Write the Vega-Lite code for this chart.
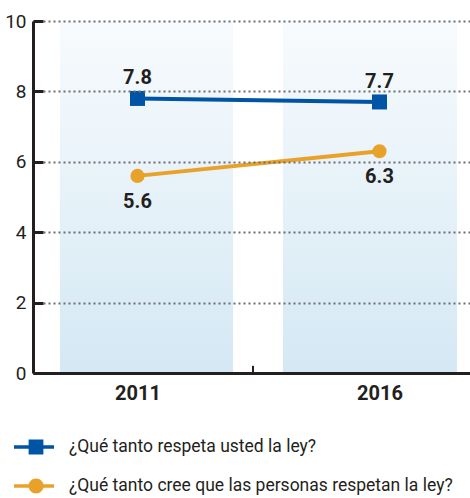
{
  "$schema": "https://vega.github.io/schema/vega-lite/v6.json",
  "width": 437,
  "height": 352,
  "autosize": {"type": "none"},
  "padding": {"left": 33, "top": 21, "right": 0, "bottom": 125},
  "config": {
    "view": {"stroke": null},
    "font": "Roboto"
  },
  "datasets": {
    "bands": [
      {"periodo": "2011", "desde": 2009.399, "hasta": 2012.973},
      {"periodo": "2016", "desde": 2014.006, "hasta": 2017.601}
    ],
    "series": [
      {"year": 2011, "serie": "¿Qué tanto respeta usted la ley?", "valor": 7.8},
      {"year": 2016, "serie": "¿Qué tanto respeta usted la ley?", "valor": 7.7},
      {"year": 2011, "serie": "¿Qué tanto cree que las personas respetan la ley?", "valor": 5.6},
      {"year": 2016, "serie": "¿Qué tanto cree que las personas respetan la ley?", "valor": 6.3}
    ]
  },
  "layer": [
    {
      "data": {"name": "bands"},
      "mark": {
        "type": "bar",
        "fill": {
          "gradient": "linear",
          "x1": 0, "y1": 0, "x2": 0, "y2": 1,
          "stops": [
            {"offset": 0, "color": "#f8fbfd"},
            {"offset": 1, "color": "#d4e8f4"}
          ]
        }
      },
      "encoding": {
        "x": {
          "field": "desde", "type": "quantitative",
          "scale": {"domain": [2008.841, 2017.87], "nice": false, "zero": false},
          "axis": {
            "title": null,
            "values": [2011, 2016],
            "format": "d",
            "zindex": 1,
            "grid": false,
            "domainColor": "#231f20",
            "domainWidth": 3,
            "ticks": false,
            "labelPadding": 10,
            "labelFontSize": 20,
            "labelFontWeight": "bold",
            "labelColor": "#231f20"
          }
        },
        "x2": {"field": "hasta"},
        "y": {
          "datum": 10, "type": "quantitative",
          "scale": {"domain": [0, 10], "nice": false}
        },
        "y2": {"datum": 0}
      }
    },
    {
      "data": {"name": "series"},
      "mark": {"type": "point", "filled": true, "opacity": 0, "size": 225},
      "encoding": {
        "x": {"field": "year", "type": "quantitative"},
        "y": {"field": "valor", "type": "quantitative"},
        "color": {
          "field": "serie", "type": "nominal",
          "scale": {
            "domain": ["¿Qué tanto respeta usted la ley?", "¿Qué tanto cree que las personas respetan la ley?"],
            "range": ["#0054a6", "#e9a229"]
          },
          "legend": {
            "title": null,
            "orient": "none",
            "legendX": -19,
            "legendY": 406,
            "padding": 0,
            "symbolSize": 1600,
            "symbolStrokeWidth": 0,
            "symbolOpacity": 1,
            "labelOffset": 15,
            "labelFontSize": 17.5,
            "labelColor": "#231f20",
            "labelLimit": 500,
            "rowPadding": 10
          }
        },
        "shape": {
          "field": "serie", "type": "nominal",
          "scale": {
            "domain": ["¿Qué tanto respeta usted la ley?", "¿Qué tanto cree que las personas respetan la ley?"],
            "range": [
              "M-1,-0.09H1V0.09H-1Z M-0.27,-0.375H0.47V0.375H-0.27Z",
              "M-1,-0.09H1V0.09H-1Z M-0.27,0A0.375,0.375 0 1,1 0.48,0A0.375,0.375 0 1,1 -0.27,0Z"
            ]
          },
          "legend": {
            "title": null,
            "orient": "none",
            "legendX": -19,
            "legendY": 406,
            "padding": 0,
            "symbolSize": 1600,
            "symbolStrokeWidth": 0,
            "symbolOpacity": 1,
            "labelOffset": 15,
            "labelFontSize": 17.5,
            "labelColor": "#231f20",
            "labelLimit": 500,
            "rowPadding": 10
          }
        }
      }
    },
    {
      "data": {"name": "series"},
      "mark": {"type": "line", "strokeWidth": 4},
      "encoding": {
        "x": {"field": "year", "type": "quantitative"},
        "y": {
          "field": "valor", "type": "quantitative",
          "axis": {
            "title": null,
            "values": [0, 1, 2, 3, 4, 5, 6, 7, 8, 9, 10],
            "tickCount": 10,
            "labelOverlap": false,
            "zindex": 1,
            "domainColor": "#231f20",
            "domainWidth": 3,
            "tickColor": "#231f20",
            "tickWidth": 3,
            "tickSize": -10,
            "labelPadding": 17,
            "labelFontSize": 19,
            "labelColor": "#231f20",
            "grid": true,
            "gridColor": "#6d6e71",
            "gridWidth": 2,
            "gridDash": [2, 3]
          }
        },
        "color": {"field": "serie", "type": "nominal", "legend": null}
      }
    },
    {
      "data": {"name": "series"},
      "transform": [{"filter": "datum.serie == '¿Qué tanto respeta usted la ley?'"}],
      "mark": {"type": "square", "size": 225, "opacity": 1},
      "encoding": {
        "x": {"field": "year", "type": "quantitative"},
        "y": {"field": "valor", "type": "quantitative"},
        "color": {"field": "serie", "type": "nominal", "legend": null}
      }
    },
    {
      "data": {"name": "series"},
      "transform": [{"filter": "datum.serie != '¿Qué tanto respeta usted la ley?'"}],
      "mark": {"type": "circle", "size": 200, "opacity": 1},
      "encoding": {
        "x": {"field": "year", "type": "quantitative"},
        "y": {"field": "valor", "type": "quantitative"},
        "color": {"field": "serie", "type": "nominal", "legend": null}
      }
    },
    {
      "data": {"name": "series"},
      "transform": [{"filter": "datum.serie == '¿Qué tanto respeta usted la ley?'"}],
      "mark": {"type": "text", "dy": -14, "baseline": "alphabetic", "fontSize": 20, "fontWeight": "bold", "color": "#231f20"},
      "encoding": {
        "x": {"field": "year", "type": "quantitative"},
        "y": {"field": "valor", "type": "quantitative"},
        "text": {"field": "valor", "type": "quantitative", "format": ".1f"}
      }
    },
    {
      "data": {"name": "series"},
      "transform": [{"filter": "datum.serie != '¿Qué tanto respeta usted la ley?'"}],
      "mark": {"type": "text", "dy": 16, "baseline": "top", "fontSize": 20, "fontWeight": "bold", "color": "#231f20"},
      "encoding": {
        "x": {"field": "year", "type": "quantitative"},
        "y": {"field": "valor", "type": "quantitative"},
        "text": {"field": "valor", "type": "quantitative", "format": ".1f"}
      }
    },
    {
      "data": {"name": "series"},
      "mark": {"type": "rule", "strokeWidth": 2, "color": "#231f20"},
      "encoding": {
        "x": {"datum": 2013.386, "type": "quantitative"},
        "y": {"datum": 0, "type": "quantitative"},
        "y2": {"datum": 0.2}
      }
    }
  ]
}
